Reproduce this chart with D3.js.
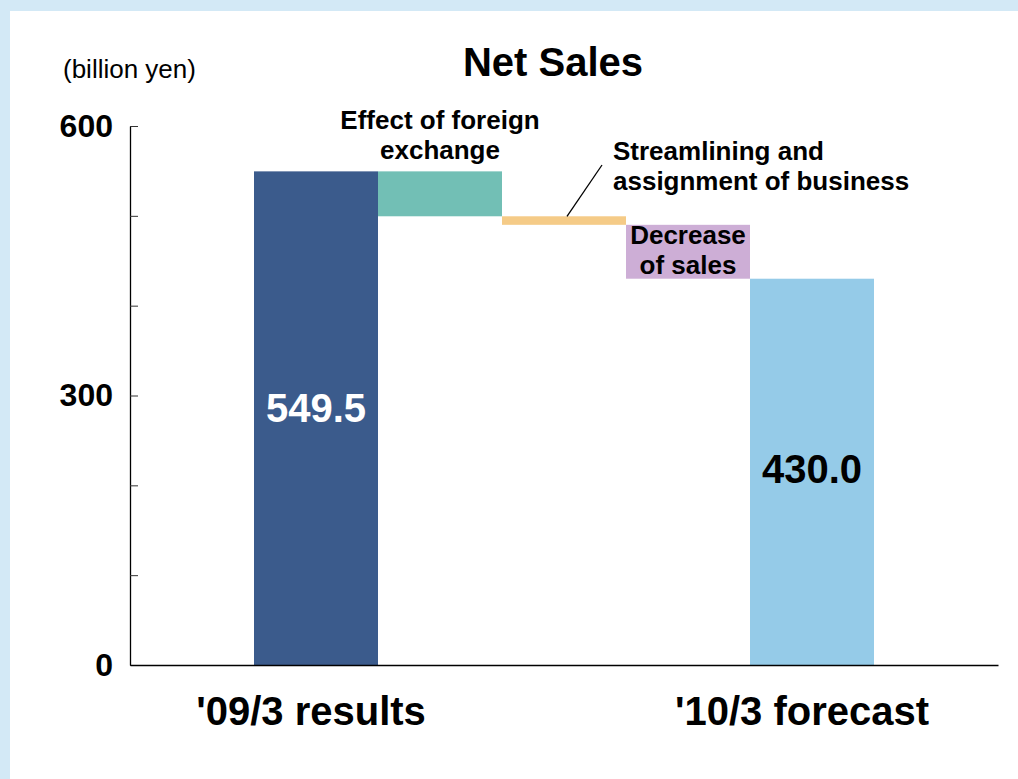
<!DOCTYPE html>
<html>
<head>
<meta charset="utf-8">
<script src="https://cdn.jsdelivr.net/npm/d3@7"></script>
<style>
  body { margin: 0; background: #d3e9f6; }
  svg { display: block; font-family: "Liberation Sans", Arial, sans-serif; }
</style>
</head>
<body>
<script>
/* data */
let steps = ['start', 'fx', 'stream', 'decrease', 'end'];
let categories = ["'09/3 results", 'Effect of foreign exchange', 'Streamlining and assignment of business', 'Decrease of sales', "'10/3 forecast"];
let changes = [549.5, -50.0, -9.5, -60.0, 430.0];
let stepColors = ['#3b5b8c', '#72bfb5', '#f5cb87', '#cdaed6', '#95cbe8'];
let yTicks = [0, 100, 200, 300, 400, 500, 600];
let yLabels = [0, 300, 600];

let width = 1018, height = 779;

let svg = d3.select('body').append('svg')
  .attr('width', width)
  .attr('height', height);

/* panneau blanc */
svg.append('rect')
  .attr('x', 10).attr('y', 11)
  .attr('width', width).attr('height', height)
  .attr('fill', '#fff');

/* echelles */
let x = d3.scaleBand().domain(steps).range([130, 998]).paddingInner(0).paddingOuter(1);
let y = d3.scaleLinear().domain([0, 600]).range([665, 126]);

/* cascade : base / sommet de chaque barre */
let running = 0;
let bars = changes.map((v, i) => {
  let lo, hi;
  if (i === 0 || i === changes.length - 1) {
    lo = 0; hi = v; running = v;
  } else {
    let next = running + v;
    lo = Math.min(running, next); hi = Math.max(running, next);
    running = next;
  }
  return { key: steps[i], lo: lo, hi: hi, color: stepColors[i] };
});

svg.selectAll('rect.bar')
  .data(bars)
  .enter()
  .append('rect')
  .attr('class', 'bar')
  .attr('x', d => x(d.key))
  .attr('y', d => y(d.hi))
  .attr('width', x.bandwidth())
  .attr('height', d => y(d.lo) - y(d.hi))
  .attr('fill', d => d.color);

/* axe Y */
let yAxis = d3.axisLeft(y)
  .tickValues(yTicks)
  .tickSizeInner(-8)
  .tickSizeOuter(0)
  .tickPadding(17)
  .tickFormat(d => yLabels.includes(d) ? d : '');

let gy = svg.append('g')
  .attr('transform', 'translate(130,0)')
  .call(yAxis);
gy.select('.domain').attr('stroke', '#000').attr('stroke-width', 1.3);
gy.selectAll('.tick line').attr('stroke', '#333');
gy.selectAll('.tick text')
  .attr('font-size', 32)
  .attr('font-weight', 'bold')
  .attr('fill', '#000')
  .attr('font-family', '"Liberation Sans", Arial, sans-serif');

/* axe X */
let xAxis = d3.axisBottom(x)
  .tickValues([steps[0], steps[4]])
  .tickSize(0)
  .tickPadding(32)
  .tickFormat(d => categories[steps.indexOf(d)]);

let gx = svg.append('g')
  .attr('transform', 'translate(0,665)')
  .call(xAxis);
gx.select('.domain').attr('stroke', '#000').attr('stroke-width', 1.5);
gx.selectAll('.tick text')
  .attr('font-size', 40)
  .attr('font-weight', 'bold')
  .attr('fill', '#000')
  .attr('dx', (d, i) => i === 0 ? -5 : -10)
  .attr('font-family', '"Liberation Sans", Arial, sans-serif');

/* titres */
svg.append('text')
  .attr('x', 553).attr('y', 76)
  .attr('text-anchor', 'middle')
  .attr('font-size', 40)
  .attr('font-weight', 'bold')
  .text('Net Sales');

svg.append('text')
  .attr('x', 63).attr('y', 78)
  .attr('font-size', 26)
  .text('(billion yen)');

/* valeurs dans les barres */
svg.append('text')
  .attr('x', x('start') + x.bandwidth() / 2).attr('y', 422)
  .attr('text-anchor', 'middle')
  .attr('font-size', 40).attr('font-weight', 'bold')
  .attr('fill', '#fff')
  .text(changes[0].toFixed(1));

svg.append('text')
  .attr('x', x('end') + x.bandwidth() / 2).attr('y', 483)
  .attr('text-anchor', 'middle')
  .attr('font-size', 40).attr('font-weight', 'bold')
  .attr('fill', '#000')
  .text(changes[4].toFixed(1));

/* etiquettes des etapes */
function label(lines, xPos, yPos, anchor) {
  let t = svg.append('text')
    .attr('font-size', 26)
    .attr('font-weight', 'bold')
    .attr('text-anchor', anchor);
  lines.forEach((l, i) => {
    t.append('tspan').attr('x', xPos).attr('y', yPos + i * 30).text(l);
  });
}

label(['Effect of foreign', 'exchange'], x('fx') + x.bandwidth() / 2, 129, 'middle');
label(['Streamlining and', 'assignment of business'], 613, 160, 'start');
label(['Decrease', 'of sales'], x('decrease') + x.bandwidth() / 2, 244, 'middle');

/* trait de rappel */
svg.append('line')
  .attr('x1', x('stream') + x.bandwidth() / 2 + 3).attr('y1', y(bars[2].hi))
  .attr('x2', 602).attr('y2', 165)
  .attr('stroke', '#000').attr('stroke-width', 1.3);
</script>
</body>
</html>
